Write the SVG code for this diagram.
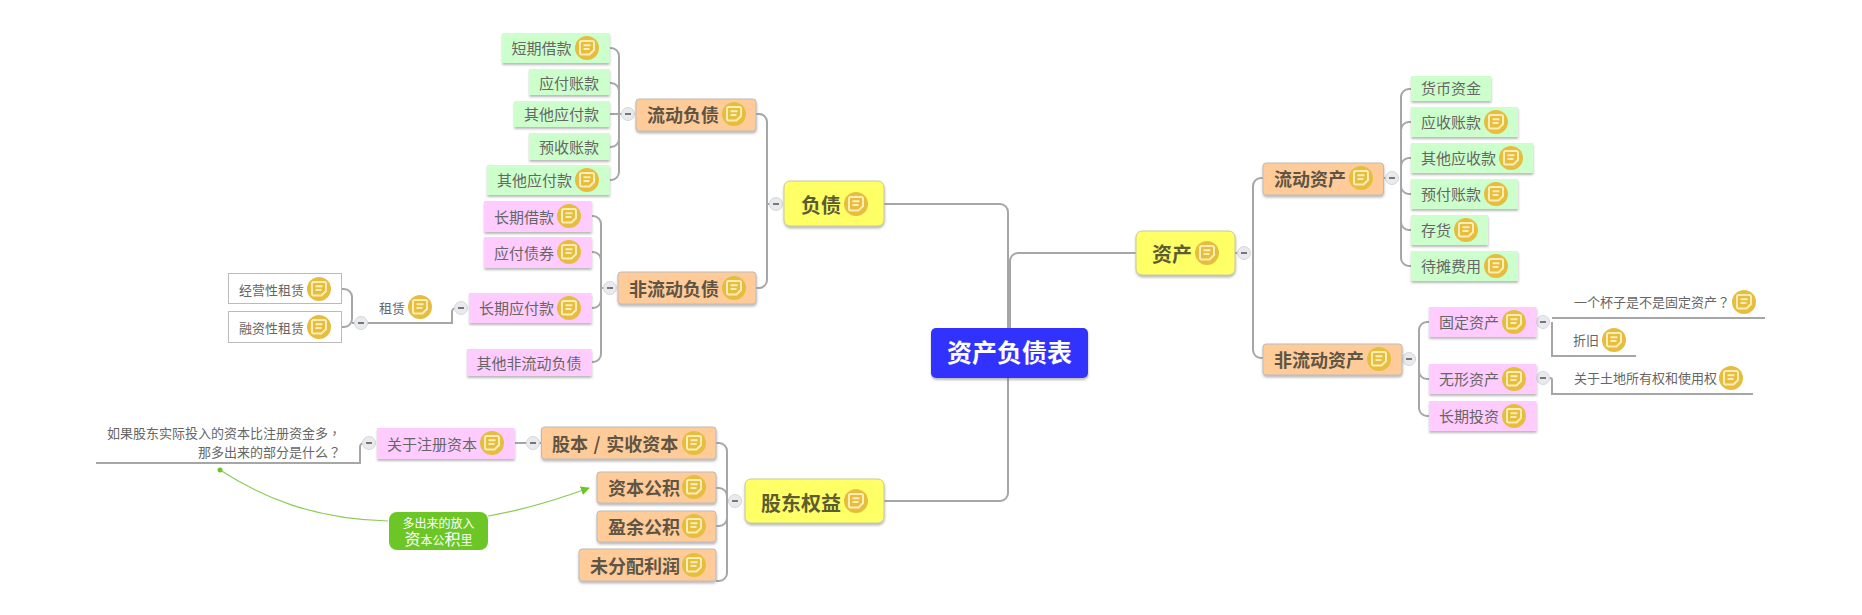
<svg xmlns="http://www.w3.org/2000/svg" width="1862" height="615" viewBox="0 0 1862 615">
<style>
text{font-family:"Noto Sans CJK SC","Liberation Sans",sans-serif}
.c{fill:none;stroke:#a6a6a6;stroke-width:2}
.b{filter:url(#s)}
.g{fill:#ccffcc}.p{fill:#ffccff}
.o{fill:#ffcc99;stroke:#bbb;stroke-width:1}
.y{fill:#ffff66;stroke:#c8c8a0;stroke-width:1}
.w{fill:#fff;stroke:#bbb;stroke-width:1}
.t{font-size:15px;fill:#666}
.n{font-size:13px;fill:#666}
.h2{font-size:18px;font-weight:700;fill:#5f5545}
.h1{font-size:20px;font-weight:700;fill:#5c5c30}
.tc{font-family:"Noto Sans CJK TC",sans-serif}
</style>
<defs>
<filter id="s" x="-10%" y="-15%" width="120%" height="140%"><feDropShadow dx="0.300" dy="2" stdDeviation="0.900" flood-color="#666" flood-opacity=".45"/></filter>
<g id="note"><circle r="12" fill="#e6bd3e"/><path d="M-7-5.500a1.500 1.500 0 0 1 1.500-1.500h11a1.500 1.500 0 0 1 1.500 1.500v7.500l-4.500 4.500h-8a1.500 1.500 0 0 1-1.500-1.500zM-3.500-2.800h7M-3.500 1h6" fill="none" stroke="#fdeeb5" stroke-width="2"/></g>
<g id="minus"><circle r="6.500" fill="#e8eaee" stroke="#d4d6da"/><path d="M-3 0h6" stroke="#777" stroke-width="2"/></g>
<marker id="arrow" viewBox="0 0 10 10" refX="9" refY="5" markerWidth="9" markerHeight="9" orient="auto" markerUnits="userSpaceOnUse"><path d="M0 0L10 5L0 10z" fill="#6cc726"/></marker>
</defs>
<rect width="1862" height="615" fill="#fff"/>
<g id="connectors">
<path class="c" d="M884 204H1000a8 8 0 0 1 8 8V328M884 501H1000a8 8 0 0 0 8-8V378"/>
<path class="c" d="M1010 328V261a8 8 0 0 1 8-8H1136"/>
<path class="c" d="M1235 253H1243M1263 178H1261a8 8 0 0 0-8 8V350a8 8 0 0 0 8 8H1263"/>
<path class="c" d="M1384 178H1392M1411 89H1409a8 8 0 0 0-8 8V258a8 8 0 0 0 8 8H1411M1411 122H1409a8 8 0 0 0-8 8M1411 158H1409a8 8 0 0 0-8 8V186a8 8 0 0 0 8 8H1411M1401 222a8 8 0 0 0 8 8H1411"/>
<path class="c" d="M1402 359H1409M1429 322H1427a8 8 0 0 0-8 8V408a8 8 0 0 0 8 8H1429M1419 371a8 8 0 0 0 8 8H1429"/>
<path class="c" d="M1536 322H1543M1552 322V356H1636M1552 318H1765"/>
<path class="c" d="M1536 378H1543M1549 378H1550a2 2 0 0 1 2 2V394H1753"/>
<path class="c" d="M756 114H759a8 8 0 0 1 8 8V280a8 8 0 0 1-8 8H756M767 204H776"/>
<path class="c" d="M610 48H611a8 8 0 0 1 8 8V172a8 8 0 0 1-8 8H610M610 83H611a8 8 0 0 1 8 8M610 147H611a8 8 0 0 0 8-8M610 114H628"/>
<path class="c" d="M592 216H593a8 8 0 0 1 8 8V354a8 8 0 0 1-8 8H592M592 252H593a8 8 0 0 1 8 8M592 308H593a8 8 0 0 0 8-8M601 288H610"/>
<path class="c" d="M342 289H344a8 8 0 0 1 8 8V319a8 8 0 0 1-8 8H342M352 323H361M361 323H452V312a4 4 0 0 1 4-4H461"/>
<path class="c" d="M96 463H360V447a4 4 0 0 1 4-4H369M515 443H533M542 443H533"/>
<path class="c" d="M716 443H719a8 8 0 0 1 8 8V573a8 8 0 0 1-8 8H716M716 488H719a8 8 0 0 1 8 8M716 526H719a8 8 0 0 0 8-8M727 501H735"/>
<path d="M220 470C262 497 312 519 388 521" fill="none" stroke="#8ccb55" stroke-width="1.200"/>
<path d="M488 516C524 510 556 500 589 488" fill="none" stroke="#8ccb55" stroke-width="1.200" marker-end="url(#arrow)"/>
<circle cx="220" cy="470" r="2.500" fill="#6cc726"/>
</g>
<g id="minuses">
<use href="#minus" x="776" y="204"/><use href="#minus" x="628" y="114"/><use href="#minus" x="610" y="288"/><use href="#minus" x="461" y="308"/><use href="#minus" x="361" y="323"/><use href="#minus" x="735" y="501"/><use href="#minus" x="533" y="443"/><use href="#minus" x="369" y="443"/><use href="#minus" x="1244" y="253"/><use href="#minus" x="1392" y="178"/><use href="#minus" x="1409" y="359"/><use href="#minus" x="1543" y="322"/><use href="#minus" x="1543" y="378"/>
</g>
<g id="root"><rect class="b" x="931" y="328" width="157" height="50" rx="5" fill="#3333ff"/><text x="947" y="362" font-size="25" font-weight="700" fill="#fff">资产负债表</text></g>

<g id="n-liability"><rect class="b y" x="784" y="181" width="100" height="45" rx="6"/><text class="h1" x="801" y="213">负债</text><use href="#note" x="856" y="204"/></g>
<g id="n-current-liab"><rect class="b o" x="636" y="99" width="120" height="32" rx="3"/><text class="h2" x="647" y="122">流动负债</text><use href="#note" x="734" y="114"/></g>
<g id="n-noncurrent-liab"><rect class="b o" x="618" y="272" width="138" height="32" rx="3"/><text class="h2" x="629" y="296">非流动负债</text><use href="#note" x="734" y="288"/></g>
<g id="n1"><rect class="b g" x="502" y="33" width="107.500" height="30"/><text class="t" x="511.500" y="54">短期借款</text><use href="#note" x="587" y="48"/></g>
<g id="n2"><rect class="b g" x="529" y="69" width="80.500" height="26"/><text class="t" x="539" y="89">应付账款</text></g>
<g id="n3"><rect class="b g" x="514" y="101" width="95.500" height="26"/><text class="t" x="524" y="120">其他应付款</text></g>
<g id="n4"><rect class="b g" x="529" y="133" width="80.500" height="27"/><text class="t" x="539" y="153">预收账款</text></g>
<g id="n5"><rect class="b g" x="487" y="165" width="122.500" height="30"/><text class="t" x="497" y="186">其他应付款</text><use href="#note" x="587" y="180"/></g>
<g id="n6"><rect class="b p" x="484" y="201" width="107.500" height="31"/><text class="t" x="494" y="223">长期借款</text><use href="#note" x="569" y="216"/></g>
<g id="n7"><rect class="b p" x="484" y="237" width="107.500" height="31"/><text class="t" x="494" y="259">应付债券</text><use href="#note" x="569" y="252"/></g>
<g id="n8"><rect class="b p" x="469" y="293" width="122.500" height="30"/><text class="t" x="479" y="314">长期应付款</text><use href="#note" x="569" y="308"/></g>
<g id="n9"><rect class="b p" x="467" y="349" width="124.500" height="27"/><text class="t" x="476.500" y="369">其他非流动负债</text></g>
<g id="n10"><text class="n" x="379" y="313">租赁</text><use href="#note" x="420" y="307"/></g>
<g id="n11"><rect class="w" x="228.500" y="273.500" width="113" height="30"/><text class="n" x="239" y="295">经营性租赁</text><use href="#note" x="319" y="289"/></g>
<g id="n12"><rect class="w" x="228.500" y="311.500" width="113" height="31"/><text class="n" x="239" y="333">融资性租赁</text><use href="#note" x="319" y="327"/></g>

<g id="n-equity"><rect class="b y" x="745" y="479" width="139" height="44" rx="6"/><text class="h1" x="761" y="511">股东权益</text><use href="#note" x="856" y="501"/></g>
<g id="n13"><rect class="b o" x="541.500" y="427" width="174.500" height="32" rx="3"/><text class="h2" x="552" y="451" word-spacing="1.500">股本 / 实收资本</text><use href="#note" x="694" y="443"/></g>
<g id="n14"><rect class="b o" x="597" y="472" width="119" height="31" rx="3"/><text class="h2" x="608" y="495">资本公积</text><use href="#note" x="694" y="487"/></g>
<g id="n15"><rect class="b o" x="597" y="511" width="119" height="31" rx="3"/><text class="h2" x="608" y="534">盈余公积</text><use href="#note" x="694" y="526"/></g>
<g id="n16"><rect class="b o" x="579" y="549" width="137" height="32" rx="3"/><text class="h2" x="590" y="573">未分配利润</text><use href="#note" x="694" y="565"/></g>
<g id="n17"><rect class="b p" x="377" y="428" width="137.500" height="31"/><text class="t" x="387" y="450">关于注册资本</text><use href="#note" x="492" y="443"/></g>
<g id="n18"><text class="n" x="341" y="438" text-anchor="end">如果股东实际投入的资本比注册资金多<tspan class="tc">，</tspan></text><text class="n" x="341" y="457" text-anchor="end">那多出来的部分是什么<tspan class="tc">？</tspan></text></g>
<g id="n-callout"><rect x="389" y="512" width="99" height="38" rx="8" fill="#6cc726"/><text x="438.500" y="528" font-size="12" fill="#fff" text-anchor="middle">多出来的放入</text><text x="438.500" y="545" font-size="12" fill="#fff" text-anchor="middle"><tspan font-size="16">资</tspan>本公<tspan font-size="16">积</tspan>里</text></g>

<g id="n-asset"><rect class="b y" x="1136" y="231" width="99" height="44" rx="6"/><text class="h1" x="1152" y="262">资产</text><use href="#note" x="1207" y="253"/></g>
<g id="n-current-asset"><rect class="b o" x="1263" y="163" width="120.500" height="32" rx="3"/><text class="h2" x="1274" y="186">流动资产</text><use href="#note" x="1361" y="178"/></g>
<g id="n-noncurrent-asset"><rect class="b o" x="1263" y="344" width="139" height="31" rx="3"/><text class="h2" x="1274" y="367">非流动资产</text><use href="#note" x="1379" y="359"/></g>
<g id="n20"><rect class="b g" x="1411" y="76" width="80" height="25"/><text class="t" x="1421" y="94">货币资金</text></g>
<g id="n21"><rect class="b g" x="1411" y="107" width="107" height="30"/><text class="t" x="1421" y="128">应收账款</text><use href="#note" x="1496" y="122"/></g>
<g id="n22"><rect class="b g" x="1411" y="143" width="122" height="30"/><text class="t" x="1421" y="164">其他应收款</text><use href="#note" x="1511" y="158"/></g>
<g id="n23"><rect class="b g" x="1411" y="179" width="107" height="30"/><text class="t" x="1421" y="200">预付账款</text><use href="#note" x="1496" y="194"/></g>
<g id="n24"><rect class="b g" x="1411" y="215" width="77" height="30"/><text class="t" x="1421" y="236">存货</text><use href="#note" x="1466" y="230"/></g>
<g id="n25"><rect class="b g" x="1411" y="251" width="107" height="30"/><text class="t" x="1421" y="272">待摊费用</text><use href="#note" x="1496" y="266"/></g>
<g id="n26"><rect class="b p" x="1429" y="307" width="107.500" height="30"/><text class="t" x="1439" y="328">固定资产</text><use href="#note" x="1514" y="322"/></g>
<g id="n27"><rect class="b p" x="1429" y="364" width="107.500" height="30"/><text class="t" x="1439" y="385">无形资产</text><use href="#note" x="1514" y="379"/></g>
<g id="n28"><rect class="b p" x="1429" y="401" width="107.500" height="30"/><text class="t" x="1439" y="422">长期投资</text><use href="#note" x="1514" y="416"/></g>
<g id="n29"><text class="n" x="1574" y="307">一个杯子是不是固定资产<tspan class="tc">？</tspan></text><use href="#note" x="1744" y="302"/></g>
<g id="n30"><text class="n" x="1573" y="345">折旧</text><use href="#note" x="1614" y="340"/></g>
<g id="n31"><text class="n" x="1574" y="383">关于土地所有权和使用权</text><use href="#note" x="1731" y="378"/></g>
</svg>
